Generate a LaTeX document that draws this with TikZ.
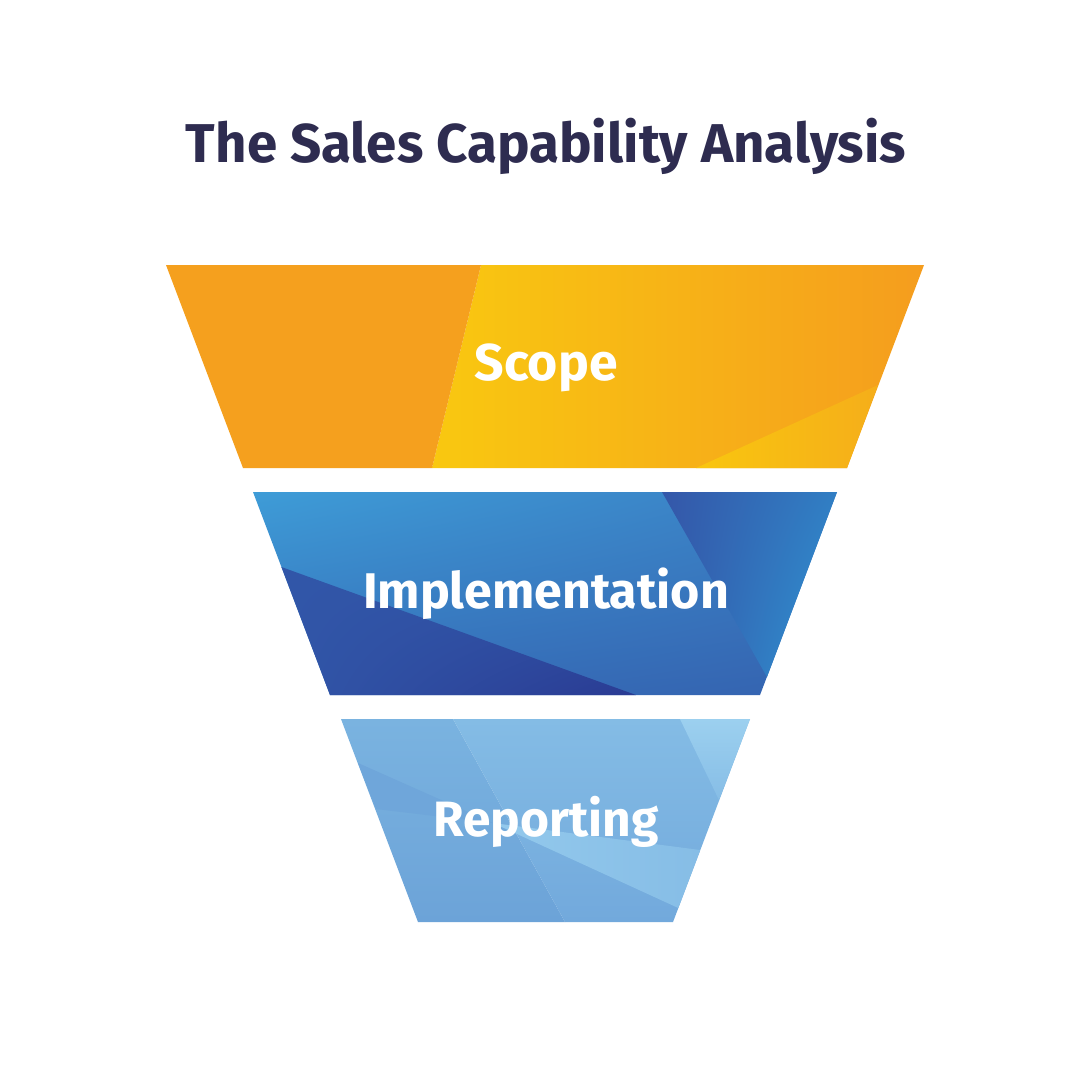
\documentclass[tikz,border=0pt]{standalone}
\usepackage{fontspec}
\setmainfont{Fira Sans}[RawFeature=-liga]
\usepackage{graphicx}
\usetikzlibrary{shadings}
\definecolor{titlecol}{RGB}{46,44,80}
\definecolor{orA}{RGB}{245,160,30}
\definecolor{yeA}{RGB}{249,200,16}
\definecolor{orB}{RGB}{245,157,30}
\definecolor{yeB}{RGB}{249,198,15}
\definecolor{orC}{RGB}{245,174,26}
\definecolor{bUL}{RGB}{62,156,215}
\definecolor{bUR}{RGB}{58,126,195}
\definecolor{bLL}{RGB}{53,112,186}
\definecolor{bLR}{RGB}{53,99,176}
\definecolor{dA}{RGB}{49,86,168}
\definecolor{dB}{RGB}{42,59,147}
\definecolor{rA}{RGB}{52,87,169}
\definecolor{rB}{RGB}{47,152,213}
\definecolor{lA}{RGB}{122,179,224}
\definecolor{lB}{RGB}{108,163,216}
\definecolor{lC}{RGB}{132,188,229}
\definecolor{lD}{RGB}{114,169,220}
\definecolor{lDark}{RGB}{111,166,218}
\definecolor{lLight}{RGB}{147,201,236}
\definecolor{lLight2}{RGB}{134,189,230}
\definecolor{lTop}{RGB}{156,208,239}
\tikzset{
  lbl/.style={text=white, font=\bfseries\fontsize{50}{60}\selectfont, anchor=base, inner sep=0pt},
  ttl/.style={text=titlecol, font=\bfseries\fontsize{56}{66}\selectfont, anchor=base, inner sep=0pt}
}
\begin{document}
\begin{tikzpicture}[x=1pt,y=-1pt]
\useasboundingbox[fill=white] (0,0) rectangle (1091,1080);

% title
\node[ttl] (title) at (546,162) {\resizebox{720pt}{!}{The Sales Capability Analysis}};

% ---- top trapezoid (Scope)
\shade[left color=yeA, right color=orB] (481,265) -- (924,265) -- (847,468) -- (432,468) -- cycle;
\fill[orA] (166,265) -- (481,265) -- (432,468) -- (243,468) -- cycle;
\shade[left color=yeB, right color=orC] (696,468) -- (878,385) -- (847,468) -- cycle;

% ---- middle trapezoid (Implementation)
\shade[upper left=bUL, upper right=bUR, lower left=bLL, lower right=bLR]
  (253,492) -- (837,492) -- (760,695) -- (330,695) -- cycle;
\shade[upper left=dA, upper right=dA, lower left=dA, lower right=dB]
  (281.4,567) -- (636,695) -- (330,695) -- cycle;
\shade[upper left=rA, upper right=rB!60!rA, lower left=rA, lower right=rB]
  (662,492) -- (837,492) -- (767,677) -- cycle;

% ---- bottom trapezoid (Reporting)
\shade[top color=lA, bottom color=lB] (341,719) -- (453,719) -- (565,922) -- (418,922) -- cycle;
\shade[top color=lC, bottom color=lD] (453,719) -- (750,719) -- (673,922) -- (565,922) -- cycle;
\fill[lDark] (358,763) -- (376,809) -- (493,823) -- cycle;
\shade[left color=lLight, right color=lLight2] (493,823) -- (700.3,850) -- (678.3,908) -- cycle;
\shade[top color=lTop, bottom color=lLight2] (680,719) -- (750,719) -- (719,800) -- cycle;

% labels
\node[lbl] (scope) at (546,380) {\resizebox{143pt}{!}{Scope}};
\node[lbl] (impl) at (546,608) {\resizebox{366pt}{!}{Implementation}};
\node[lbl] (rep) at (546,836) {\resizebox{225pt}{!}{Reporting}};
\end{tikzpicture}
\end{document}
